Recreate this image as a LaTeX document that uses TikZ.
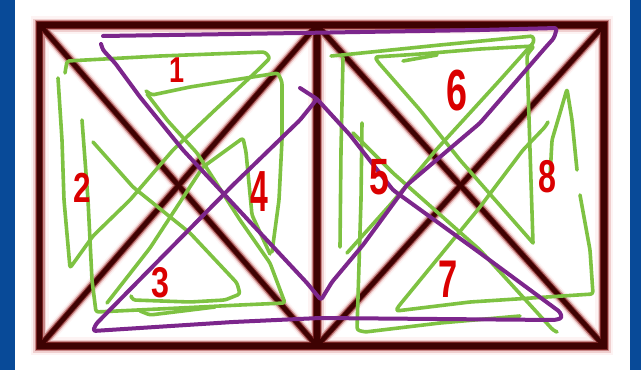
\documentclass[tikz,border=0pt]{standalone}
\usepackage{graphicx}
\usepackage{fontspec}
\setmainfont{Liberation Sans}
\definecolor{bgblue}{RGB}{8,74,152}
\definecolor{fa}{RGB}{253,243,243}
\definecolor{fb}{RGB}{240,208,208}
\definecolor{fc}{RGB}{200,135,135}
\definecolor{fd}{RGB}{120,35,35}
\definecolor{fe}{RGB}{62,2,2}
\definecolor{gr}{RGB}{126,194,66}
\definecolor{pu}{RGB}{124,38,140}
\definecolor{rd}{RGB}{218,0,0}
\begin{document}
\begin{tikzpicture}[x=1pt,y=-1pt,
  gline/.style={draw=gr, line width=3.6pt, line cap=round, line join=round, rounded corners=2.5pt},
  pline/.style={draw=pu, line width=4pt, line cap=round, line join=round, rounded corners=2.5pt},
  num/.style={text=rd, inner sep=0pt, anchor=center}]
\useasboundingbox (0,0) rectangle (641,370);
\fill[white] (0,0) rectangle (641,370);
\fill[bgblue] (0,0) rectangle (15,370);
\fill[bgblue] (630,0) rectangle (641,370);
% frame with blurred look
\foreach \w/\v/\c in {18/14/fa, 13/11/fb, 10/8.5/fc, 7.5/6/fd, 5.5/4.2/fe} {
  \draw[line width=\w pt, color=\c] (39.5,25) rectangle (604,346);
  \draw[line width=\w pt, color=\c] (317,25) -- (317,346);
  \draw[line width=\v pt, color=\c] (40,25) -- (317,346);
  \draw[line width=\v pt, color=\c] (40,346) -- (317,25);
  \draw[line width=\v pt, color=\c] (317,25) -- (604,346);
  \draw[line width=\v pt, color=\c] (317,346) -- (604,25);
}
% green strokes, left square
\draw[gline] (65,73) -- (67,61) -- (160,56) -- (265,52) -- (270,58) -- (258,70) -- (215,110) -- (173,150) -- (130,200) -- (93,236) -- (70,268) -- (64,200) -- (62,140) -- (58,78);
\draw[gline] (272,252) -- (279,200) -- (282,140) -- (282,82) -- (278,73) -- (240,79) -- (190,87) -- (152,95) -- (146,91);
\draw[gline] (147,94) -- (167,120) -- (197,153) -- (240,220) -- (270,263) -- (285,303) -- (240,305) -- (180,308) -- (96,312) -- (92,280) -- (88,200) -- (82,120);
\draw[gline] (93,142) -- (133,187) -- (190,233) -- (237,283) -- (240,294) -- (225,300) -- (190,302) -- (133,300) -- (131,296);
\draw[gline] (140,311) -- (150,315) -- (215,307);
\draw[gline] (107,303) -- (150,248) -- (203,167) -- (243,138) -- (246,152) -- (252,215) -- (270,254);
% green strokes, right square
\draw[gline] (331,56) -- (342,55) -- (440,45) -- (533,36) -- (534,42) -- (500,80) -- (436,150) -- (390,205) -- (347,253);
\draw[gline] (340,247) -- (341,150) -- (343,58);
\draw[gline] (533,243) -- (530,150) -- (527,55) -- (534,46) -- (480,49) -- (420,54) -- (375,57) -- (378,62) -- (420,110) -- (460,160) -- (533,243);
\draw[gline] (403,61) -- (437,55);
\draw[gline] (362,123) -- (361,200) -- (357,330) -- (365,332) -- (440,323) -- (520,316);
\draw[gline] (353,133) -- (393,173) -- (480,250) -- (553,330) -- (557,332);
\draw[gline] (548,122) -- (545,127) -- (523,150) -- (480,207) -- (398,307) -- (396,311) -- (470,302) -- (593,294) -- (590,250) -- (580,195);
\draw[gline] (550,177) -- (552,140) -- (560,113) -- (567,89) -- (572,120) -- (577,170);
% purple strokes
\draw[pline] (103,36) -- (300,33) -- (480,30) -- (557,28) -- (554,38) -- (545,48) -- (480,123) -- (407,185) -- (363,245) -- (332,282) -- (321,300) -- (307,283) -- (250,222) -- (183,150) -- (140,97) -- (115,63) -- (103,50) -- (101,44);
\draw[pline] (300,88) -- (317,99) -- (350,135) -- (393,190) -- (440,224) -- (480,253) -- (560,312) -- (562,318) -- (555,320) -- (320,318) -- (233,322) -- (93,331) -- (96,324) -- (233,185) -- (300,120) -- (317,99);
% numbers
\node[num, font=\bfseries\fontsize{36}{36}\selectfont] (n1) at (177,70) {\scalebox{0.75}[1]{1}};
\node[num, font=\bfseries\fontsize{42}{42}\selectfont] (n2) at (82,188) {\scalebox{0.75}[1]{2}};
\node[num, font=\bfseries\fontsize{43}{43}\selectfont] (n3) at (160,283) {\scalebox{0.75}[1]{3}};
\node[num, font=\bfseries\fontsize{58}{58}\selectfont] (n4) at (259,192) {\scalebox{0.55}[1]{4}};
\node[num, font=\bfseries\fontsize{51}{51}\selectfont] (n5) at (379,177) {\scalebox{0.7}[1]{5}};
\node[num, font=\bfseries\fontsize{58}{58}\selectfont] (n6) at (457,91) {\scalebox{0.65}[1]{6}};
\node[num, font=\bfseries\fontsize{53}{53}\selectfont] (n7) at (448,279) {\scalebox{0.65}[1]{7}};
\node[num, font=\bfseries\fontsize{46}{46}\selectfont] (n8) at (547,177) {\scalebox{0.7}[1]{8}};
\end{tikzpicture}
\end{document}
